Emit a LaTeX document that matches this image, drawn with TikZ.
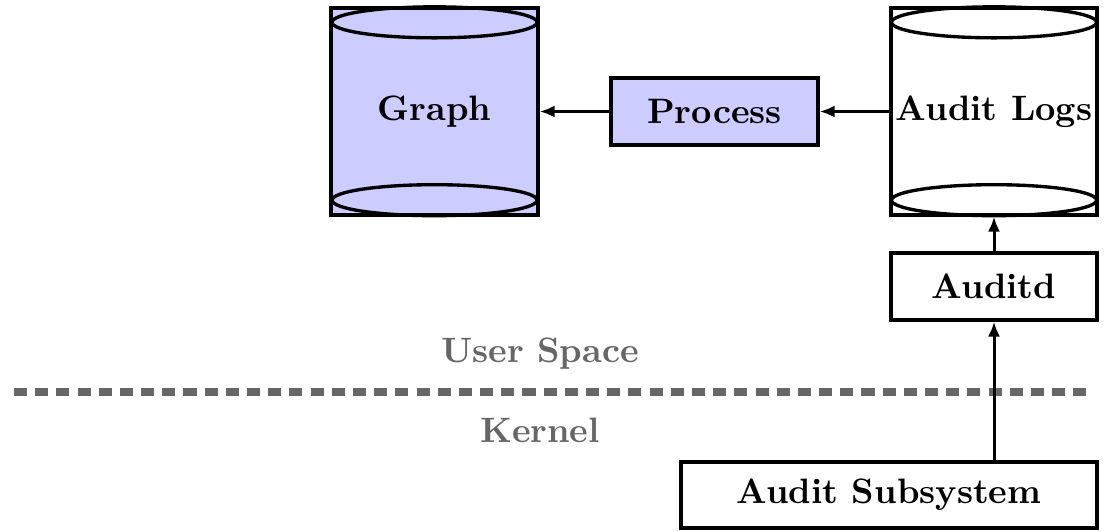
\documentclass[tikz,border=0pt]{standalone}
\usetikzlibrary{arrows.meta,calc}
\newcommand\pxu{0.2832pt}
\tikzset{
  box/.style={draw, line width=0.95pt, font=\bfseries, inner sep=0pt},
  dbfill/.style={fill=blue!20},
  arr/.style={line width=0.85pt, -{Latex[length=4.2pt,width=3.4pt]}},
  lane/.style={font=\bfseries, text=black!60},
  lid/.style={line width=0.95pt},
}
\begin{document}
\begin{tikzpicture}[x=\pxu, y=-\pxu]
\useasboundingbox (0,0) rectangle (1105,530);

% data stores (cylinders)
\node[box, dbfill, minimum width=207*\pxu, minimum height=207*\pxu] (graph) at (434.5,111.5) {Graph};
\node[box, minimum width=206*\pxu, minimum height=207*\pxu] (logs) at (994,111.5) {Audit Logs};
\foreach \c in {graph,logs} {
  \draw[lid] ($(\c.north)+(0,16)$) ellipse [x radius=102.5*\pxu, y radius=15.5*\pxu];
  \draw[lid] ($(\c.south)+(0,-16.5)$) ellipse [x radius=102.5*\pxu, y radius=15.5*\pxu];
}

% processing boxes
\node[box, dbfill, minimum width=207*\pxu, minimum height=67*\pxu] (process) at (714.5,111.5) {Process};
\node[box, minimum width=206*\pxu, minimum height=67*\pxu] (auditd) at (994,286.5) {Auditd};
\node[box, minimum width=416*\pxu, minimum height=66*\pxu] (sub) at (889,495) {Audit Subsystem};

% user/kernel boundary
\coordinate (bl) at (14,392);
\coordinate (br) at (1092,392);
\draw[black!60, line width=2pt, dash pattern=on 3.7pt off 2.3pt] (bl) -- (br);
\node[lane] (user) at (540,354) {User Space};
\node[lane] (kern) at (540,430) {Kernel};

% data flow
\draw[arr] (process.west) -- (graph.east);
\draw[arr] (logs.west) -- (process.east);
\draw[arr] (auditd.north) -- (logs.south);
\draw[arr] (auditd.south |- sub.north) -- (auditd.south);
\end{tikzpicture}
\end{document}
